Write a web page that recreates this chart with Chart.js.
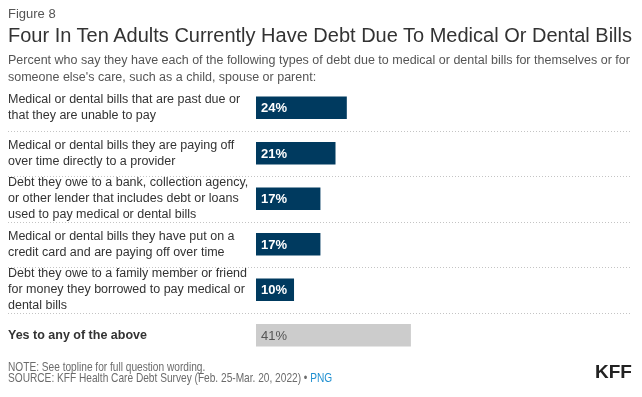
<!DOCTYPE html>
<html>
<head>
<meta charset="utf-8">
<script src="https://cdn.jsdelivr.net/npm/chart.js@4/dist/chart.umd.min.js"></script>
<style>
  html, body { margin: 0; padding: 0; background: #fff; }
  body { width: 642px; height: 397px; position: relative; overflow: hidden; font-family: "Liberation Sans", Arial, sans-serif; }
  #chartWrap { position: absolute; left: 0; top: 0; width: 642px; height: 397px; }
  .txt { position: absolute; left: 8px; white-space: nowrap; }
  #fig { top: 6px; font-size: 13px; color: #555; }
  #title { top: 24px; font-size: 20px; color: #333; }
  #subtitle { top: 52px; font-size: 12.5px; line-height: 17px; color: #555; }
  #note { top: 361px; font-size: 13px; line-height: 11px; color: #6b6b6b; transform: scaleX(0.78); transform-origin: 0 0; }
  #note a { color: #1e8fd0; text-decoration: none; }
  #logo { position: absolute; left: 595px; top: 361px; font-size: 19px; font-weight: bold; color: #222; }
</style>
</head>
<body>
<div id="chartWrap"><canvas id="debtChart" width="642" height="397"></canvas></div>
<div class="txt" id="fig">Figure 8</div>
<div class="txt" id="title">Four In Ten Adults Currently Have Debt Due To Medical Or Dental Bills</div>
<div class="txt" id="subtitle">Percent who say they have each of the following types of debt due to medical or dental bills for themselves or for<br>someone else's care, such as a child, spouse or parent:</div>
<div class="txt" id="note">NOTE: See topline for full question wording.<br>SOURCE: KFF Health Care Debt Survey (Feb. 25-Mar. 20, 2022) • <a>PNG</a></div>
<div id="logo">KFF</div>
<script>
const categories = [
    ['Medical or dental bills that are past due or', 'that they are unable to pay'],
    ['Medical or dental bills they are paying off', 'over time directly to a provider'],
    ['Debt they owe to a bank, collection agency,', 'or other lender that includes debt or loans', 'used to pay medical or dental bills'],
    ['Medical or dental bills they have put on a', 'credit card and are paying off over time'],
    ['Debt they owe to a family member or friend', 'for money they borrowed to pay medical or', 'dental bills'],
    ['Yes to any of the above'],
];
const values = [24, 21, 17, 17, 10, 41];

const NAVY = '#003a5f';
const GRAY = '#cccccc';
const lastIdx = values.length - 1;

// dotted separators between rows, running under the labels too
const rowSeparators = {
    id: 'rowSeparators',
    beforeDatasetsDraw(chart) {
        const ctx = chart.ctx;
        const yScale = chart.scales.y;
        ctx.save();
        ctx.strokeStyle = '#c4c4c4';
        ctx.lineWidth = 1;
        ctx.setLineDash([1, 2]);
        for (let i = 0; i < categories.length - 1; i++) {
            const y = Math.round((yScale.getPixelForTick(i) + yScale.getPixelForTick(i + 1)) / 2) + 0.5;
            ctx.beginPath();
            ctx.moveTo(8, y);
            ctx.lineTo(632, y);
            ctx.stroke();
        }
        ctx.restore();
    },
};

// value labels inside the bars
const barLabels = {
    id: 'barLabels',
    afterDatasetsDraw(chart) {
        const ctx = chart.ctx;
        const meta = chart.getDatasetMeta(0);
        ctx.save();
        ctx.textBaseline = 'middle';
        ctx.textAlign = 'left';
        meta.data.forEach((bar, i) => {
            const isTotal = i === lastIdx;
            ctx.font = (isTotal ? '' : 'bold ') + '13px "Liberation Sans", Arial, sans-serif';
            ctx.fillStyle = isTotal ? '#555' : '#fff';
            ctx.fillText(values[i] + '%', bar.base + 5, bar.y + 1);
        });
        ctx.restore();
    },
};

const ctx = document.getElementById('debtChart').getContext('2d');
new Chart(ctx, {
    type: 'bar',
    data: {
        labels: categories,
        datasets: [{
            data: values,
            backgroundColor: values.map((v, i) => (i === lastIdx ? GRAY : NAVY)),
            borderWidth: 0,
            barThickness: 22,
        }],
    },
    options: {
        indexAxis: 'y',
        responsive: false,
        animation: false,
        layout: { padding: { top: 85, bottom: 39, left: 8, right: 9 } },
        scales: {
            x: {
                display: false,
                min: 0,
                max: 100,
            },
            y: {
                grid: { display: false },
                border: { display: false },
                afterFit: (scale) => { scale.width = 248; },
                ticks: {
                    autoSkip: false,
                    crossAlign: 'far',
                    padding: 0,
                    color: '#333',
                    font: (c) => ({
                        family: '"Liberation Sans", Arial, sans-serif',
                        size: 12.5,
                        weight: c.index === lastIdx ? 'bold' : 'normal',
                        lineHeight: 16 / 12.5,
                    }),
                },
            },
        },
        plugins: {
            legend: { display: false },
            tooltip: { enabled: false },
        },
    },
    plugins: [rowSeparators, barLabels],
});
</script>
</body>
</html>
